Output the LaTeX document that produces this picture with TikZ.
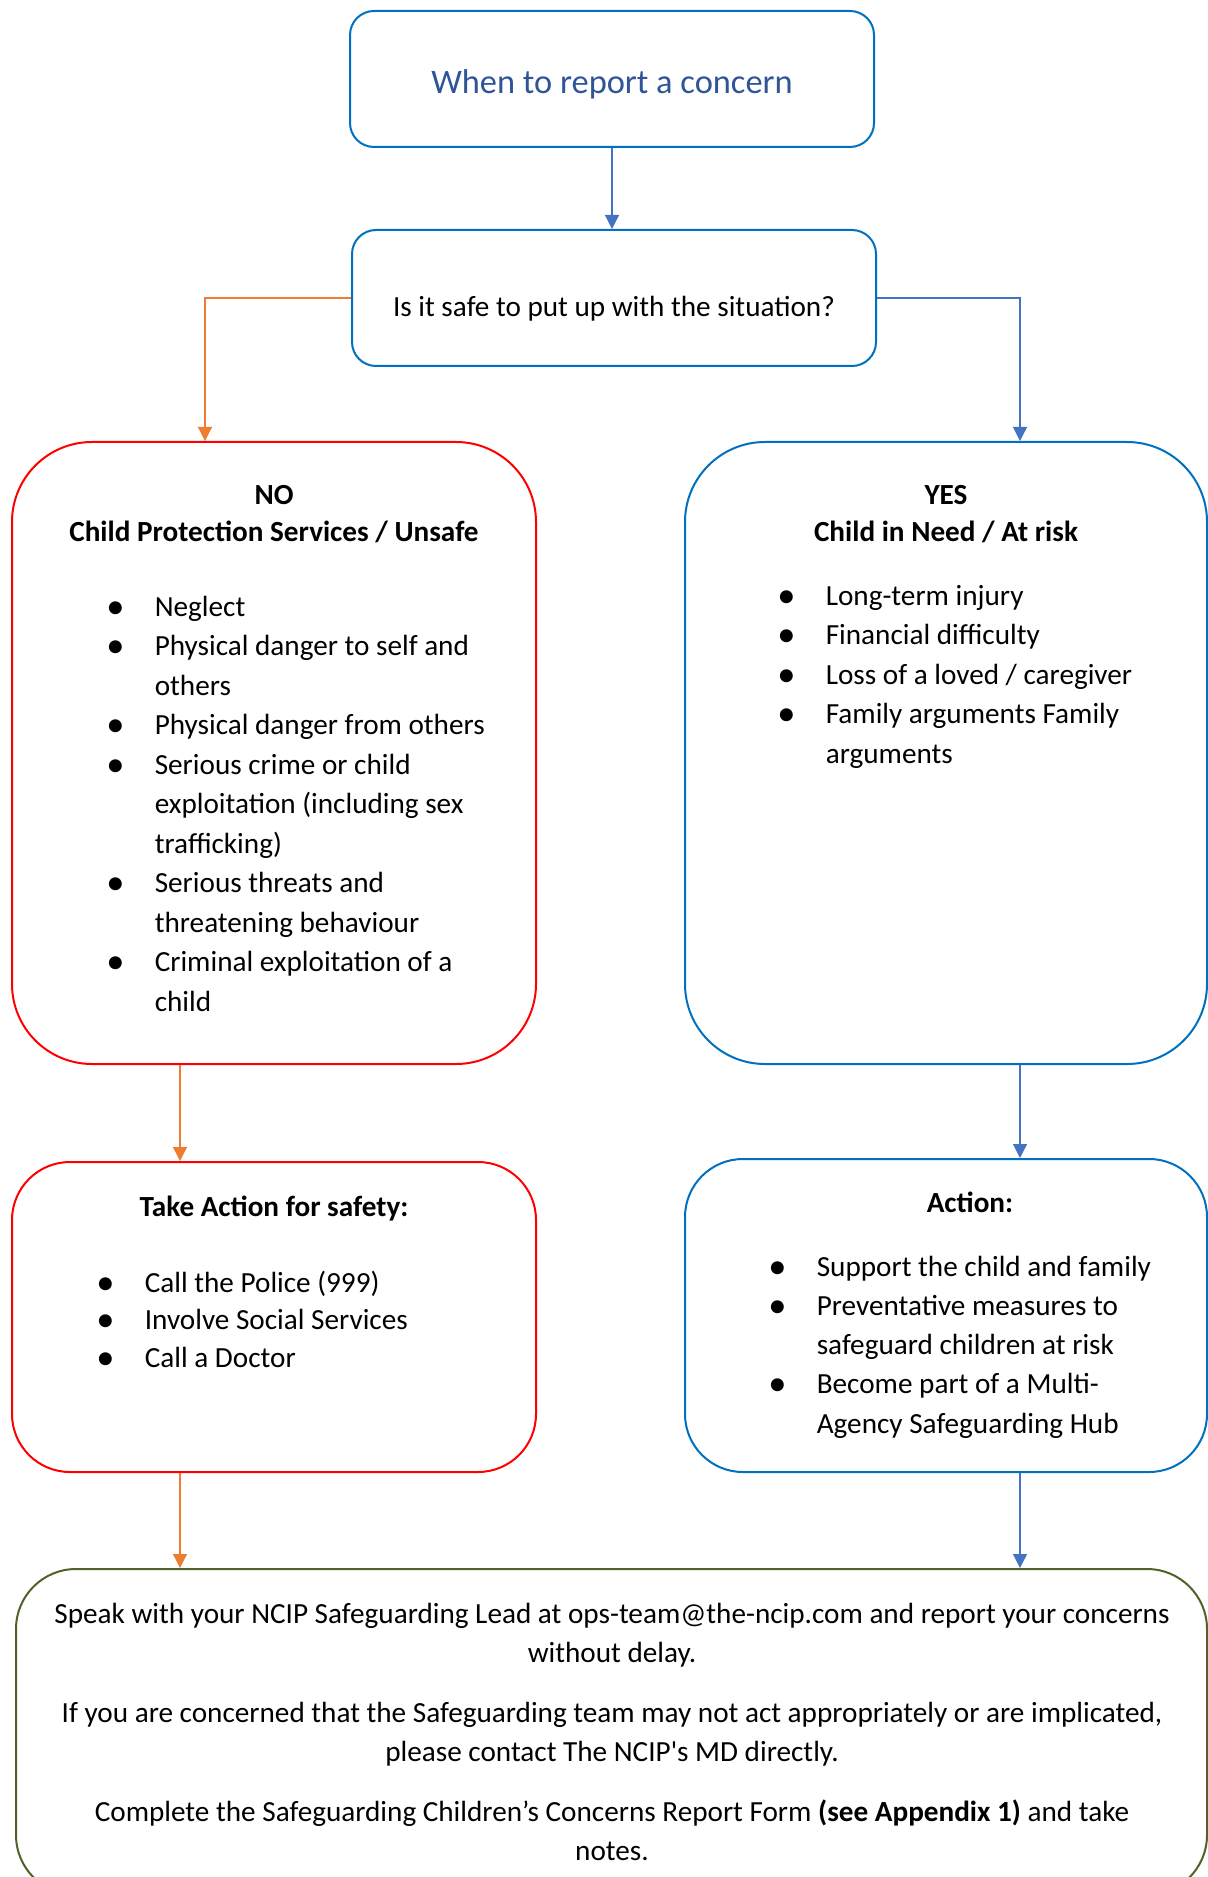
\documentclass[tikz,border=0pt]{standalone}
\usepackage{fontspec}
\setmainfont{Carlito}
\usetikzlibrary{arrows.meta}
\definecolor{boxblue}{HTML}{0070C0}
\definecolor{titleblue}{HTML}{2F5597}
\definecolor{linkblue}{HTML}{4472C4}
\definecolor{linkorange}{HTML}{ED7D31}
\definecolor{boxred}{HTML}{FF0000}
\definecolor{boxgreen}{HTML}{4F6228}
\newcommand{\bigdot}{\raisebox{-0.07em}{\scalebox{1.25}{\textbullet}}}
\newenvironment{dotlist}{\begin{list}{\bigdot}{\setlength\leftmargin{24.2pt}\setlength\labelwidth{24.2pt}%
  \setlength\labelsep{0pt}\setlength\itemsep{0pt}\setlength\parsep{0pt}\setlength\topsep{0pt}%
  \setlength\partopsep{0pt}\def\makelabel##1{##1\hfil}}}{\end{list}}

\begin{document}
\begin{tikzpicture}[x=0.5pt,y=-0.5pt,
    execute at begin picture={\fontsize{14.6pt}{19.75pt}\selectfont},
    flowbox/.style={rectangle,draw,line width=1pt,inner sep=0pt},
    listnode/.style={anchor=base west,inner sep=0pt},
    bluearrow/.style={draw=linkblue,line width=0.6pt,-{Triangle[length=7pt,width=7pt]}},
    orangearrow/.style={draw=linkorange,line width=0.6pt,-{Triangle[length=7pt,width=7pt]}}]
    \useasboundingbox (0,0) rectangle (1208,1877);

    \node[flowbox,draw=boxblue,rounded corners=12pt,minimum width=262pt,minimum height=68pt,
        text=titleblue,font=\fontsize{17.2pt}{20pt}\selectfont,text height=17.9pt,text depth=3.5pt] (start) at (612,79)
        {When to report a concern};
    \node[flowbox,draw=boxblue,rounded corners=12pt,minimum width=262pt,minimum height=68pt,
        text height=22pt,text depth=3pt] (safe) at (614,298) {Is it safe to put up with the situation?};

    \node[flowbox,draw=boxred,rounded corners=40pt,minimum width=262pt,minimum height=311pt] (no) at (274,753) {};
    \node[flowbox,draw=boxblue,rounded corners=40pt,minimum width=261pt,minimum height=311pt] (yes) at (946,753) {};
    \node[flowbox,draw=boxred,rounded corners=29pt,minimum width=262pt,minimum height=155pt] (take) at (274,1317) {};
    \node[flowbox,draw=boxblue,rounded corners=29pt,minimum width=261pt,minimum height=156.5pt] (action) at (946,1315.5) {};
    \node[flowbox,draw=boxgreen,rounded corners=30pt,minimum width=595.5pt,minimum height=163pt] (report) at (611.5,1732) {};

    \node[anchor=base] (nohead) at (274,504)
        {\parbox[t]{250pt}{\centering\bfseries\setlength\baselineskip{18.5pt}NO\\Child Protection Services / Unsafe}};
    \node[listnode] (nolist) at (106,596) {\parbox[t]{210pt}{\raggedright\begin{dotlist}
        \item Neglect
        \item Physical danger to self and\newline others
        \item Physical danger from others
        \item Serious crime or child\newline exploitation (including sex\newline trafficking)
        \item Serious threats and\newline threatening behaviour
        \item Criminal exploitation of a\newline child
    \end{dotlist}}};

    \node[anchor=base] (yeshead) at (946,504)
        {\parbox[t]{250pt}{\centering\bfseries\setlength\baselineskip{18.5pt}YES\\Child in Need / At risk}};
    \node[listnode] (yeslist) at (777,585) {\parbox[t]{210pt}{\raggedright\begin{dotlist}
        \item Long-term injury
        \item Financial difficulty
        \item Loss of a loved / caregiver
        \item Family arguments Family\newline arguments
    \end{dotlist}}};

    \node[anchor=base,font=\bfseries] (takehead) at (274,1216) {Take Action for safety:};
    \node[listnode] (takelist) at (96,1271) {\parbox[t]{210pt}{\raggedright\setlength\baselineskip{18.75pt}\begin{dotlist}
        \item Call the Police (999)
        \item Involve Social Services
        \item Call a Doctor
    \end{dotlist}}};

    \node[anchor=base,font=\bfseries] (actionhead) at (970,1212) {Action:};
    \node[listnode] (actionlist) at (768,1256) {\parbox[t]{215pt}{\raggedright\setlength\baselineskip{19.6pt}\begin{dotlist}
        \item Support the child and family
        \item Preventative measures to\newline safeguard children at risk
        \item Become part of a Multi-\newline Agency Safeguarding Hub
    \end{dotlist}}};

    \node[anchor=base] (note) at (612,1623) {\parbox[t]{585pt}{\centering\setlength\baselineskip{19.5pt}%
        Speak with your NCIP Safeguarding Lead at ops-team@the-ncip.com and report your concerns\\without delay.\par
        \vspace{10.5pt}If you are concerned that the Safeguarding team may not act appropriately or are implicated,\\please contact The NCIP\textquotesingle s MD directly.\par
        \vspace{10.5pt}Complete the Safeguarding Children’s Concerns Report Form \textbf{(see Appendix 1)} and take\\notes.}};

    \coordinate (lefttop) at (205,0);
    \coordinate (leftcol) at (180,0);
    \coordinate (rightcol) at (1020,0);
    \draw[bluearrow] (start.south) -- (start.south |- safe.north);
    \draw[orangearrow] (safe.west) -| (lefttop |- no.north);
    \draw[bluearrow] (safe.east) -| (rightcol |- yes.north);
    \draw[orangearrow] (leftcol |- no.south) -- (leftcol |- take.north);
    \draw[bluearrow] (rightcol |- yes.south) -- (rightcol |- action.north);
    \draw[orangearrow] (leftcol |- take.south) -- (leftcol |- report.north);
    \draw[bluearrow] (rightcol |- action.south) -- (rightcol |- report.north);
\end{tikzpicture}
\end{document}
